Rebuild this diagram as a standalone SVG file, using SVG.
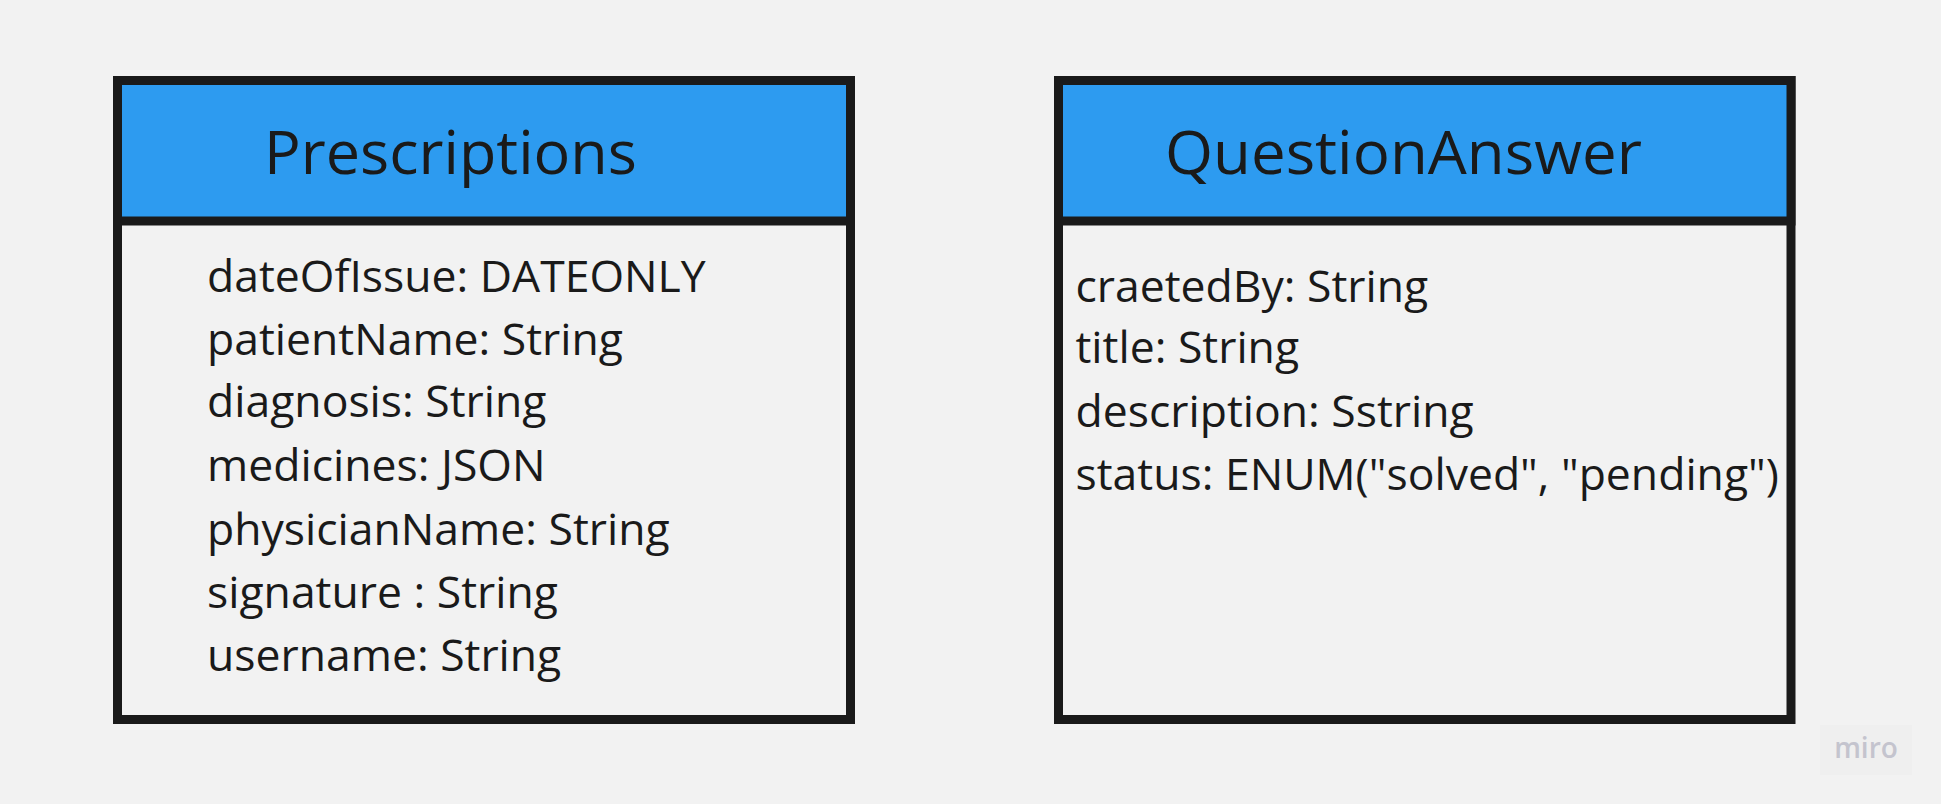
<svg xmlns="http://www.w3.org/2000/svg" width="1941" height="804" viewBox="0 0 1941 804">
<style>
.bg{fill:#f2f2f2}
.body{fill:#f2f2f2;stroke:#1a1a1a;stroke-width:9}
.head{fill:#2d9bf0;stroke:#1a1a1a;stroke-width:9}
.title{font-family:"Open Sans","Noto Sans",sans-serif;font-size:60px;fill:#1a1a1a}
.attr{font-family:"Open Sans","Noto Sans",sans-serif;font-size:44.5px;fill:#1a1a1a}
.miro{font-family:"Open Sans","Noto Sans",sans-serif;font-size:28px;font-weight:600;fill:#c4c4ce}
</style>
<rect class="bg" x="0" y="0" width="1941" height="804"/>
<g id="connectors"></g>
<g id="prescriptions">
<rect class="body" x="117.5" y="80.5" width="733" height="639"/>
<rect class="head" x="117.5" y="80.5" width="733" height="140.5"/>
<text class="title" x="264" y="173.5" textLength="373" lengthAdjust="spacingAndGlyphs">Prescriptions</text>
<text class="attr" x="207" y="292">dateOfIssue: DATEONLY</text>
<text class="attr" x="207" y="355">patientName: String</text>
<text class="attr" x="207" y="417">diagnosis: String</text>
<text class="attr" x="207" y="481">medicines: JSON</text>
<text class="attr" x="207" y="545">physicianName: String</text>
<text class="attr" x="207" y="608">signature : String</text>
<text class="attr" x="207" y="671">username: String</text>
</g>
<g id="questionanswer">
<rect class="body" x="1058.5" y="80.5" width="732.5" height="639"/>
<rect class="head" x="1058.5" y="80.5" width="732.5" height="140.5"/>
<text class="title" x="1165" y="174" textLength="477" lengthAdjust="spacingAndGlyphs">QuestionAnswer</text>
<text class="attr" x="1075.5" y="302">craetedBy: String</text>
<text class="attr" x="1075.5" y="363">title: String</text>
<text class="attr" x="1075.5" y="427">description: Sstring</text>
<text class="attr" x="1075.5" y="490">status: ENUM("solved", "pending")</text>
</g>
<g id="miro-logo">
<rect x="1820" y="725" width="92" height="50" fill="#efefef"/>
<text class="miro" x="1866" y="758" text-anchor="middle">miro</text>
</g>
</svg>
